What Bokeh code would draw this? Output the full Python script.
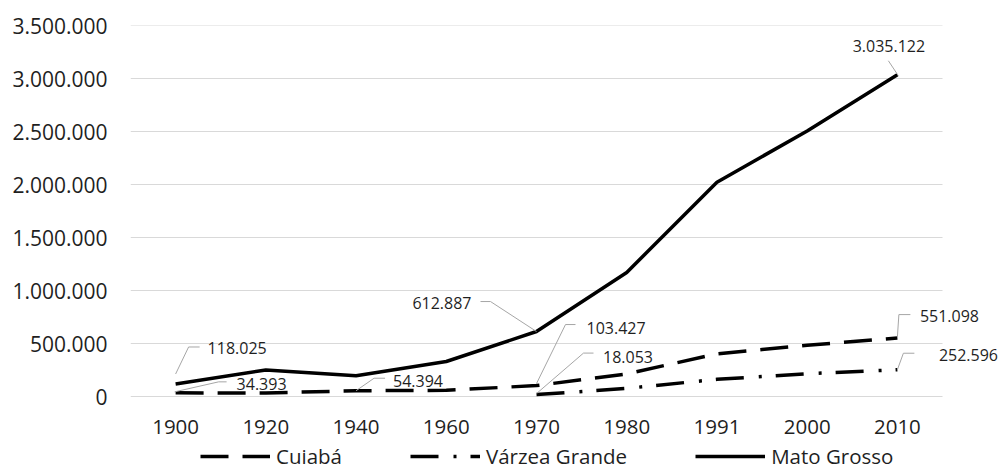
import numpy as np
from bokeh.plotting import figure
from bokeh.models import Range1d, FixedTicker, Legend, LegendItem, Label
from bokeh.embed import file_html
from bokeh.resources import INLINE

# ---------------- data ----------------
years = ["1900", "1920", "1940", "1960", "1970", "1980", "1991", "2000", "2010"]
cuiaba = [34393, 33678, 54394, 57860, 103427, 212984, 402813, 483346, 551098]
varzea_grande = [None, None, None, None, 18053, 76676, 161958, 215298, 252596]
mato_grosso = [118025, 250000, 196000, 330000, 612887, 1170000, 2022000, 2504353, 3035122]
y_ticks = [0, 500000, 1000000, 1500000, 2000000, 2500000, 3000000, 3500000]
series_names = ["Cuiabá", "Várzea Grande", "Mato Grosso"]

# ---------------- layout / style ----------------
FONT = "Open Sans"
TEXT = "#1f1f1f"
W, H = 1000, 470
LEFT, TOP = 130, 25
PLOT_W, PLOT_H = 812, 371         # pixel size of the category band / 0..max band
y_max = y_ticks[-1]
n = len(years)
ux = n / PLOT_W                   # data units per px (x)
uy = y_max / PLOT_H               # data units per px (y)
x_end = (W - LEFT) * ux           # room on the right for the end labels
y_min = -(H - TOP - PLOT_H) * uy  # room below zero for axis labels + legend


def fmt(v):
    return f"{int(v):,}".replace(",", ".")


xs = [i + 0.5 for i in range(n)]
cu = np.array(cuiaba, dtype=float)
vg = np.array([np.nan if v is None else v for v in varzea_grande], dtype=float)
mt = np.array(mato_grosso, dtype=float)

p = figure(width=W, height=H, output_backend="svg", toolbar_location=None,
           x_range=Range1d(0, x_end), y_range=Range1d(y_min, y_max),
           min_border_left=LEFT, min_border_right=0,
           min_border_top=TOP, min_border_bottom=0,
           background_fill_color="white", border_fill_color="white")
p.outline_line_color = None
p.xgrid.grid_line_color = None
p.ygrid.grid_line_color = None

# horizontal gridlines across the category band only
p.segment(x0=[0] * len(y_ticks), x1=[n] * len(y_ticks), y0=y_ticks, y1=y_ticks,
          line_color="#d9d9d9", line_width=1)

p.xaxis.ticker = FixedTicker(ticks=xs)
p.xaxis.major_label_overrides = {x: y for x, y in zip(xs, years)}
p.xaxis.fixed_location = 0
p.yaxis.ticker = FixedTicker(ticks=y_ticks)
p.yaxis.major_label_overrides = {t: fmt(t) for t in y_ticks}
for ax in (p.xaxis[0], p.yaxis[0]):
    ax.axis_line_color = None
    ax.major_tick_line_color = None
    ax.minor_tick_line_color = None
    ax.major_tick_out = 0
    ax.major_tick_in = 0
    ax.major_label_text_font = FONT
    ax.major_label_text_color = TEXT
p.xaxis.major_label_text_font_size = "20.5px"
p.yaxis.major_label_text_font_size = "21px"
p.xaxis.major_label_standoff = 23
p.yaxis.major_label_standoff = 23

r_cu = p.line(xs, cu, line_color="black", line_width=3.5, line_dash="28 14", line_join="round")
r_vg = p.line(xs, vg, line_color="black", line_width=3.5, line_dash="28 15 3 14", line_join="round")
r_mt = p.line(xs, mt, line_color="black", line_width=3.5, line_join="round")

# ---------------- data labels with leader lines ----------------
# (values, index, leader offsets in px (dx, dy; dy down), text offset px, align)
labels = [
    (mato_grosso, 0, [(0, -10), (13, -37), (24, -37)], (32, -36), "left"),
    (cuiaba, 0, [(-1, -1), (43, -11), (51, -11)], (61, -9), "left"),
    (cuiaba, 2, [(0, 0), (18, -12.5), (29, -12.5)], (37, -10), "left"),
    (mato_grosso, 4, [(0, 0), (-46, -30), (-56, -30)], (-65, -29), "right"),
    (cuiaba, 4, [(0, -2), (29, -61), (39, -61)], (50, -58), "left"),
    (varzea_grande, 4, [(0, -1), (47, -41.5), (57, -41.5)], (66.5, -38), "left"),
    (cuiaba, 8, [(0, -1), (1.5, -23.5), (13, -23.5)], (22.5, -22.5), "left"),
    (varzea_grande, 8, [(0, 0), (6, -16.5), (17, -16.5)], (41.5, -15), "left"),
    (mato_grosso, 8, [(1, 1), (-9, -14)], (-8.5, -29), "center"),
]
for vals, i, leader, (tx, ty), align in labels:
    xp, yp = xs[i], float(vals[i])
    lx = [xp + dx * ux for dx, dy in leader]
    ly = [yp - dy * uy for dx, dy in leader]
    p.line(lx, ly, line_color="#a6a6a6", line_width=1)
    p.add_layout(Label(x=xp + tx * ux, y=yp - ty * uy, text=fmt(vals[i]),
                       text_align=align, text_baseline="middle", text_color=TEXT,
                       text_font=FONT, text_font_size="16px"))

legend = Legend(items=[LegendItem(label=series_names[0], renderers=[r_cu]),
                       LegendItem(label=series_names[1], renderers=[r_vg]),
                       LegendItem(label=series_names[2], renderers=[r_mt])],
                orientation="horizontal", location=(70, 0),
                glyph_width=70, glyph_height=20, label_standoff=6, spacing=68,
                padding=0, margin=0, border_line_alpha=0, background_fill_alpha=0,
                label_text_font=FONT, label_text_font_size="20.5px",
                label_text_color=TEXT)
p.add_layout(legend, "center")

open("out.html", "w").write(file_html(p, INLINE))
